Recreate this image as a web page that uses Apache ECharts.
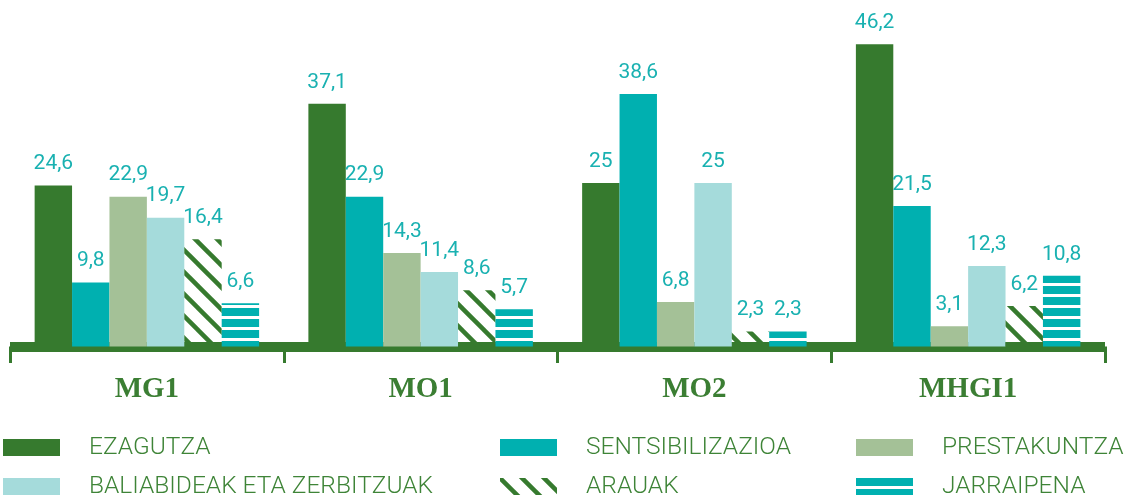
<!DOCTYPE html>
<html>
<head>
<meta charset="utf-8">
<script src="https://cdn.jsdelivr.net/npm/echarts@6/dist/echarts.min.js"></script>
<style>
  html, body { margin: 0; padding: 0; background: #fff; }
  #chart { width: 1126px; height: 498px; }
</style>
</head>
<body>
<div id="chart"></div>
<script>
// data
const categories = ['MG1', 'MO1', 'MO2', 'MHGI1'];
const ezagutza = [24.6, 37.1, 25, 46.2];
const sentsibilizazioa = [9.8, 22.9, 38.6, 21.5];
const prestakuntza = [22.9, 14.3, 6.8, 3.1];
const baliabideak = [19.7, 11.4, 25, 12.3];
const arauak = [16.4, 8.6, 2.3, 6.2];
const jarraipena = [6.6, 5.7, 2.3, 10.8];

const GREEN = '#367a2e';
const TEAL = '#00b0b0';

// diagonal stripes for ARAUAK
function diagonalPattern() {
  const c = document.createElement('canvas');
  c.width = 22; c.height = 22;
  const ctx = c.getContext('2d');
  ctx.strokeStyle = GREEN;
  ctx.lineWidth = 4.5;
  [-22, 0, 22].forEach(dy => {
    ctx.beginPath();
    ctx.moveTo(-2, dy - 2);
    ctx.lineTo(24, dy + 24);
    ctx.stroke();
  });
  return c;
}

// horizontal stripes for JARRAIPENA
function stripePattern() {
  const c = document.createElement('canvas');
  c.width = 4; c.height = 11;
  const ctx = c.getContext('2d');
  ctx.fillStyle = TEAL;
  ctx.fillRect(0, 0, 4, 8);
  return c;
}

const fmt = p => String(p.value).replace('.', ',');

function barSeries(name, data, color) {
  return {
    name: name,
    type: 'bar',
    data: data,
    barGap: 0,
    barCategoryGap: '18%',
    itemStyle: { color: color },
    label: {
      show: true,
      position: 'top',
      distance: 11,
      formatter: fmt,
      color: '#19b1b1',
      fontFamily: 'Roboto',
      fontSize: 21
    }
  };
}

// three legend columns, two rows each
const legendBase = {
  orient: 'vertical',
  icon: 'rect',
  itemWidth: 57,
  itemHeight: 17,
  itemGap: 14,
  padding: 0,
  top: 435,
  height: 70,
  selectedMode: false,
  textStyle: {
    color: '#3e8437',
    fontFamily: 'Roboto',
    fontWeight: 300,
    fontSize: 24.5,
    lineHeight: 25,
    padding: [0, 0, 0, 24]
  }
};

const chart = echarts.init(document.getElementById('chart'));
chart.setOption({
  animation: false,
  backgroundColor: '#fff',
  grid: { left: 10, right: 21, top: 19.5, bottom: 151.5 },
  legend: [
    Object.assign({}, legendBase, { left: 3, data: ['EZAGUTZA', 'BALIABIDEAK ETA ZERBITZUAK'] }),
    Object.assign({}, legendBase, { left: 500, data: ['SENTSIBILIZAZIOA', 'ARAUAK'] }),
    Object.assign({}, legendBase, { left: 856, data: ['PRESTAKUNTZA', 'JARRAIPENA'] })
  ],
  xAxis: {
    type: 'category',
    data: categories,
    offset: 5,
    axisLine: { lineStyle: { color: GREEN, width: 10, cap: 'butt' } },
    axisTick: { show: true, length: 16.5, lineStyle: { color: GREEN, width: 3 } },
    axisLabel: {
      margin: 24,
      color: '#3b7e33',
      fontFamily: 'Liberation Serif',
      fontWeight: 'bold',
      fontSize: 29,
      lineHeight: 28
    }
  },
  yAxis: { type: 'value', min: 0, max: 50, show: false },
  series: [
    barSeries('EZAGUTZA', ezagutza, GREEN),
    barSeries('SENTSIBILIZAZIOA', sentsibilizazioa, TEAL),
    barSeries('PRESTAKUNTZA', prestakuntza, '#a4c197'),
    barSeries('BALIABIDEAK ETA ZERBITZUAK', baliabideak, '#a5dbdb'),
    barSeries('ARAUAK', arauak, { image: diagonalPattern(), repeat: 'repeat' }),
    barSeries('JARRAIPENA', jarraipena, { image: stripePattern(), repeat: 'repeat' })
  ]
});
</script>
</body>
</html>
